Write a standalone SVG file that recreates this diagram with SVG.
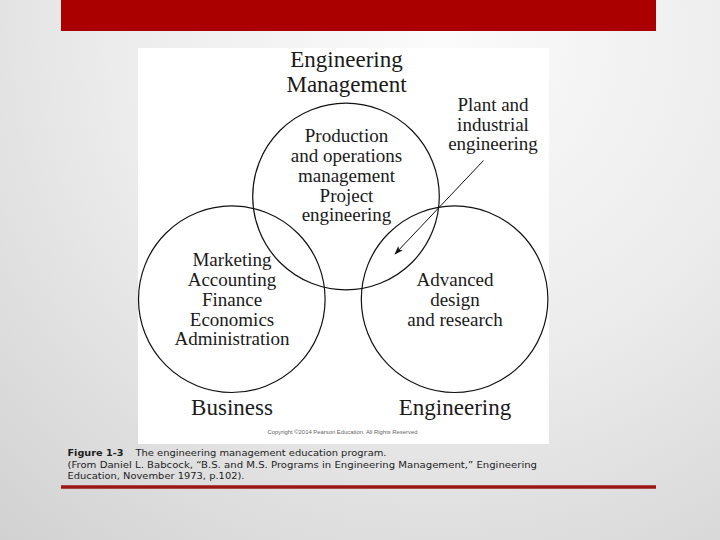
<svg xmlns="http://www.w3.org/2000/svg" width="720" height="540" viewBox="0 0 720 540">
  <defs>
    <radialGradient id="bg" cx="440" cy="40" r="720" gradientUnits="userSpaceOnUse">
      <stop offset="0" stop-color="#fbfbfb"/>
      <stop offset="0.45" stop-color="#ececec"/>
      <stop offset="1" stop-color="#cdcdcd"/>
    </radialGradient>
    <marker id="arrowhead" viewBox="0 0 10 10" refX="9" refY="5" markerWidth="9" markerHeight="9" markerUnits="userSpaceOnUse" orient="auto">
      <path d="M0,1.5 L10,5 L0,8.5 L2.5,5 Z" fill="#111"/>
    </marker>
    <style>
      .ring { fill: none; stroke: #111; stroke-width: 1.2; }
      .lbl { font-family: "Liberation Serif", "Times New Roman", serif; font-size: 19px; fill: #1a1a1a; text-anchor: middle; }
      .big { font-family: "Liberation Serif", "Times New Roman", serif; font-size: 23px; fill: #1a1a1a; text-anchor: middle; }
      .cap { font-family: "DejaVu Sans", Verdana, sans-serif; font-size: 9px; fill: #1e1e1e; }
      .copy { font-family: "Liberation Sans", Arial, sans-serif; font-size: 5px; fill: #666; }
      .conn { stroke: #111; stroke-width: 1; fill: none; }
    </style>
  </defs>

  <rect x="0" y="0" width="720" height="540" fill="url(#bg)"/>
  <rect x="61" y="0" width="595" height="31" fill="#ab0000"/>
  <rect x="138" y="48" width="411" height="396" fill="#ffffff"/>

  <g id="engineering-management">
    <circle class="ring" cx="346" cy="196.5" r="93.3"/>
    <text class="big" x="346.5" y="67">Engineering</text>
    <text class="big" x="346.5" y="92">Management</text>
    <text class="lbl" x="346.5" y="142">Production</text>
    <text class="lbl" x="346.5" y="162">and operations</text>
    <text class="lbl" x="346.5" y="181.5">management</text>
    <text class="lbl" x="346.5" y="201.5">Project</text>
    <text class="lbl" x="346.5" y="221">engineering</text>
  </g>

  <g id="business">
    <circle class="ring" cx="231.8" cy="299.2" r="93.3"/>
    <text class="lbl" x="232" y="266">Marketing</text>
    <text class="lbl" x="232" y="286">Accounting</text>
    <text class="lbl" x="232" y="305.5">Finance</text>
    <text class="lbl" x="232" y="325.5">Economics</text>
    <text class="lbl" x="232" y="345">Administration</text>
    <text class="big" x="232" y="415">Business</text>
  </g>

  <g id="engineering">
    <circle class="ring" cx="454.6" cy="299.2" r="93.3"/>
    <text class="lbl" x="455" y="286">Advanced</text>
    <text class="lbl" x="455" y="305.5">design</text>
    <text class="lbl" x="455" y="325.5">and research</text>
    <text class="big" x="455" y="415">Engineering</text>
  </g>

  <g id="plant-industrial">
    <text class="lbl" x="493" y="111">Plant and</text>
    <text class="lbl" x="493" y="131">industrial</text>
    <text class="lbl" x="493" y="150">engineering</text>
  </g>

  <g id="connectors">
    <line class="conn" x1="483.5" y1="160.5" x2="395" y2="254" marker-end="url(#arrowhead)"/>
  </g>

  <text class="copy" x="267.5" y="433.5" textLength="150" lengthAdjust="spacingAndGlyphs">Copyright ©2014 Pearson Education, All Rights Reserved</text>

  <g id="caption">
    <text class="cap" x="67.5" y="456" font-weight="bold" textLength="56" lengthAdjust="spacingAndGlyphs">Figure 1-3</text>
    <text class="cap" x="135.5" y="456" textLength="251" lengthAdjust="spacingAndGlyphs">The engineering management education program.</text>
    <text class="cap" x="67.5" y="467.5" textLength="469.5" lengthAdjust="spacingAndGlyphs">(From Daniel L. Babcock, “B.S. and M.S. Programs in Engineering Management,” Engineering</text>
    <text class="cap" x="67.5" y="479.3" textLength="177" lengthAdjust="spacingAndGlyphs">Education, November 1973, p.102).</text>
  </g>

  <line x1="61" y1="487" x2="656" y2="487" stroke="#9d1616" stroke-width="3.4"/>
</svg>
